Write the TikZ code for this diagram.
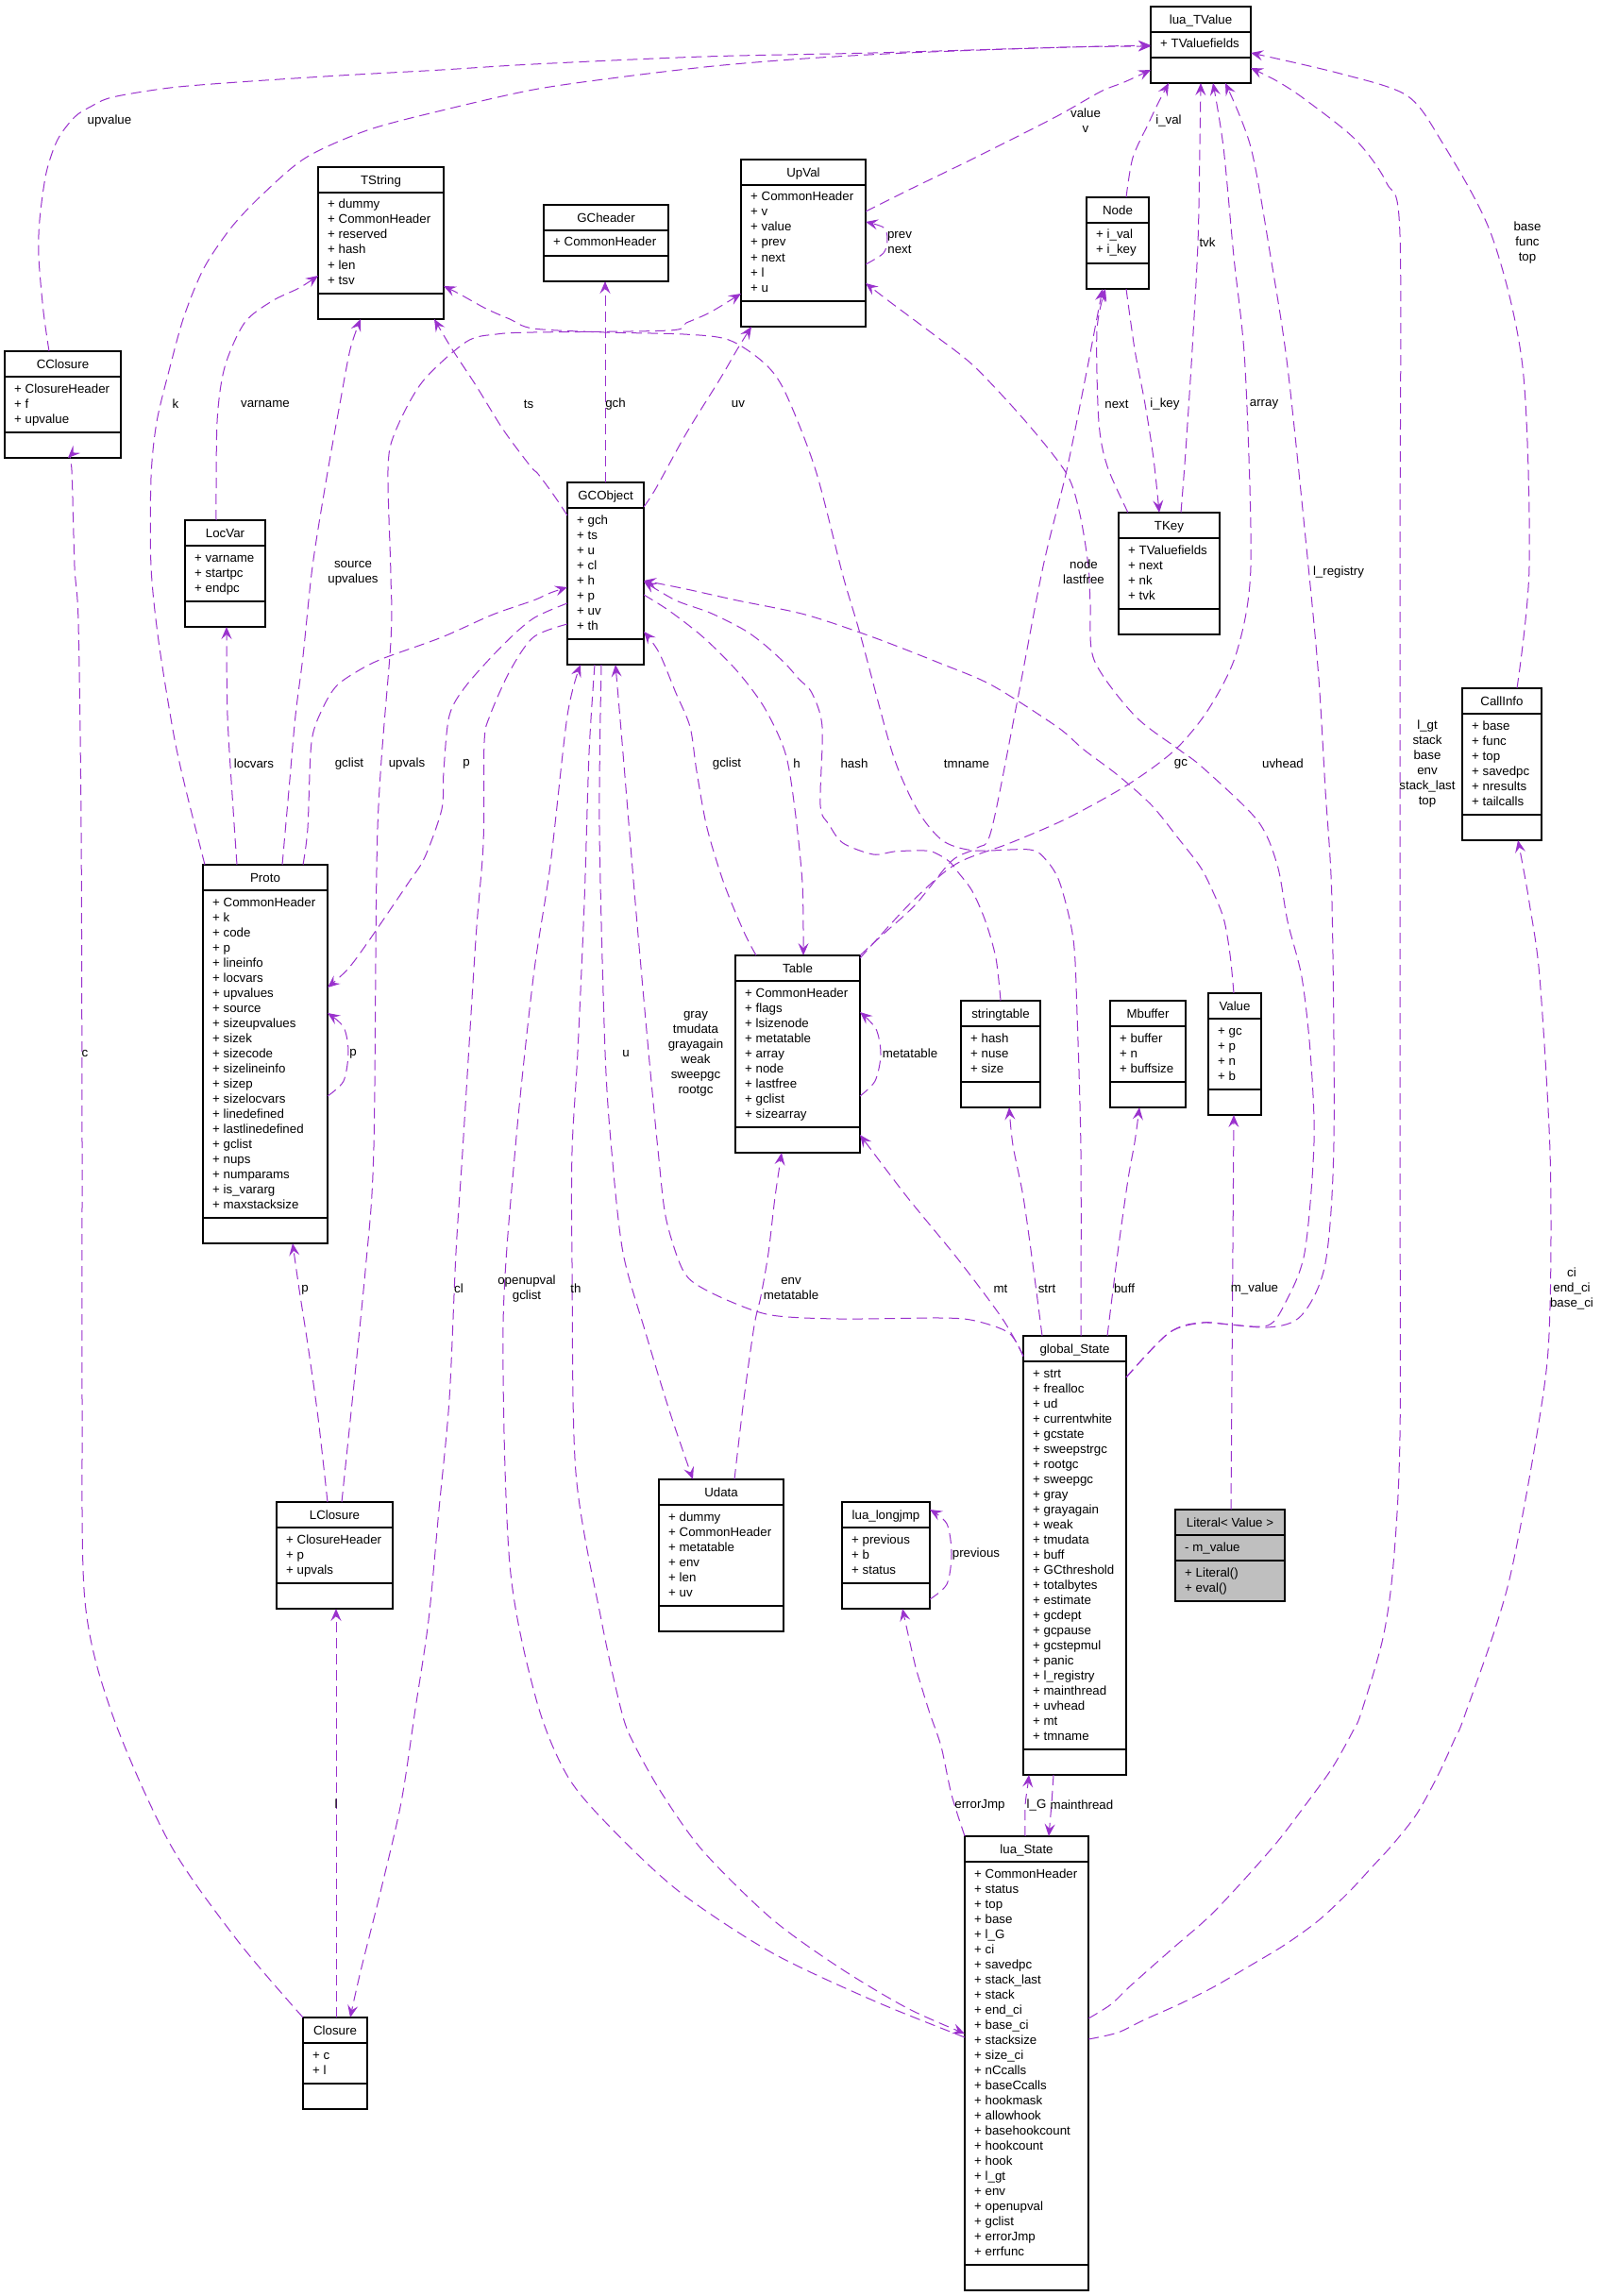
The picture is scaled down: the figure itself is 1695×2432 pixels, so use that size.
\documentclass[tikz,border=0pt]{standalone}
\usepackage{fontspec}
\setmainfont{Liberation Sans}
\usetikzlibrary{arrows.meta,calc}
\definecolor{edgec}{HTML}{9A32CD}
\definecolor{litgray}{HTML}{BFBFBF}
\tikzset{
 clsbox/.style={draw=black, line width=1.1pt, inner sep=0pt, outer sep=0pt},
 clsline/.style={black, line width=1.1pt},
 clstitle/.style={anchor=base, inner sep=0pt, font=\fontsize{13.3}{16}\selectfont},
 clstxt/.style={anchor=base west, inner sep=0pt, font=\fontsize{13.3}{16}\selectfont},
 edge/.style={draw=edgec, line width=1pt, dash pattern=on 11pt off 6pt, -{Stealth[length=13pt,width=11pt,inset=5pt]}},
 lbl/.style={inner sep=0pt, align=center, font=\fontsize{13.3}{16}\selectfont},
}
\def\clsfill{white}
\newcommand\cls[9]{%
 \pgfmathsetmacro\hB{#6*16+11}%
 \pgfmathsetmacro\hC{#8*16+11}%
 \pgfmathsetmacro\hT{27+\hB+\hC}%
 \node[clsbox, fill=\clsfill, minimum width=#4pt, minimum height=\hT pt, anchor=north west] (#1) at (#2,#3) {};
 \draw[clsline] (#2,#3+27) -- (#2+#4,#3+27);
 \draw[clsline] (#2,#3+27+\hB) -- (#2+#4,#3+27+\hB);
 \node[clstitle] (#1-t) at (#2+#4/2,#3+18.5) {#5};
 \foreach \clsitem [count=\clsnum] in {#7} {\node[clstxt] (#1-a\clsnum) at (#2+10,#3+28+16*\clsnum) {\clsitem};}
 \if\relax\detokenize{#9}\relax\else
 \foreach \clsitem [count=\clsnum] in {#9} {\node[clstxt] (#1-m\clsnum) at (#2+10,#3+28+\hB+16*\clsnum) {\clsitem};}
 \fi
}
\newcommand\anc[4]{\coordinate (#1) at ($(#2.north west)+(#3,#4)$);}
\begin{document}
\begin{tikzpicture}[x=1pt,y=-1pt]
\useasboundingbox[fill=white] (0,0) rectangle (1695,2432);

% ---------- classes ----------
\cls{LT}{1219}{7}{106}{lua\_TValue}{1}{+ TValuefields}{1}{}
\cls{TS}{337}{177}{133}{TString}{6}{+ dummy,+ CommonHeader,+ reserved,+ hash,+ len,+ tsv}{1}{}
\cls{CC}{5}{372}{123}{CClosure}{3}{+ ClosureHeader,+ f,+ upvalue}{1}{}
\cls{GH}{576}{217}{132}{GCheader}{1}{+ CommonHeader}{1}{}
\cls{UV}{785}{169}{132}{UpVal}{7}{+ CommonHeader,+ v,+ value,+ prev,+ next,+ l,+ u}{1}{}
\cls{ND}{1151}{209}{66}{Node}{2}{+ i\_val,+ i\_key}{1}{}
\cls{GO}{601}{511}{81}{GCObject}{8}{+ gch,+ ts,+ u,+ cl,+ h,+ p,+ uv,+ th}{1}{}
\cls{LV}{196}{551}{85}{LocVar}{3}{+ varname,+ startpc,+ endpc}{1}{}
\cls{TK}{1185}{543}{107}{TKey}{4}{+ TValuefields,+ next,+ nk,+ tvk}{1}{}
\cls{CI}{1549}{729}{84}{CallInfo}{6}{+ base,+ func,+ top,+ savedpc,+ nresults,+ tailcalls}{1}{}
\cls{PR}{215}{916}{132}{Proto}{21}{+ CommonHeader,+ k,+ code,+ p,+ lineinfo,+ locvars,+ upvalues,+ source,+ sizeupvalues,+ sizek,+ sizecode,+ sizelineinfo,+ sizep,+ sizelocvars,+ linedefined,+ lastlinedefined,+ gclist,+ nups,+ numparams,+ is\_vararg,+ maxstacksize}{1}{}
\cls{TB}{779}{1012}{132}{Table}{9}{+ CommonHeader,+ flags,+ lsizenode,+ metatable,+ array,+ node,+ lastfree,+ gclist,+ sizearray}{1}{}
\cls{ST}{1018}{1060}{84}{stringtable}{3}{+ hash,+ nuse,+ size}{1}{}
\cls{MB}{1176}{1060}{80}{Mbuffer}{3}{+ buffer,+ n,+ buffsize}{1}{}
\cls{VA}{1280}{1052}{56}{Value}{4}{+ gc,+ p,+ n,+ b}{1}{}
\cls{GS}{1084}{1415}{109}{global\_State}{25}{+ strt,+ frealloc,+ ud,+ currentwhite,+ gcstate,+ sweepstrgc,+ rootgc,+ sweepgc,+ gray,+ grayagain,+ weak,+ tmudata,+ buff,+ GCthreshold,+ totalbytes,+ estimate,+ gcdept,+ gcpause,+ gcstepmul,+ panic,+ l\_registry,+ mainthread,+ uvhead,+ mt,+ tmname}{1}{}
\cls{UD}{698}{1567}{132}{Udata}{6}{+ dummy,+ CommonHeader,+ metatable,+ env,+ len,+ uv}{1}{}
\cls{LJ}{892}{1591}{93}{lua\_longjmp}{3}{+ previous,+ b,+ status}{1}{}
\cls{LC}{293}{1591}{123}{LClosure}{3}{+ ClosureHeader,+ p,+ upvals}{1}{}
\def\clsfill{litgray}
\cls{LI}{1245}{1599}{116}{Literal< Value >}{1}{- m\_value}{2}{+ Literal(),+ eval()}
\def\clsfill{white}
\cls{CL}{321}{2137}{68}{Closure}{2}{+ c,+ l}{1}{}
\cls{LS}{1022}{1945}{131}{lua\_State}{26}{+ CommonHeader,+ status,+ top,+ base,+ l\_G,+ ci,+ savedpc,+ stack\_last,+ stack,+ end\_ci,+ base\_ci,+ stacksize,+ size\_ci,+ nCcalls,+ baseCcalls,+ hookmask,+ allowhook,+ basehookcount,+ hookcount,+ hook,+ l\_gt,+ env,+ openupval,+ gclist,+ errorJmp,+ errfunc}{1}{}

% ---------- edge end points ----------
\anc{e1a}{CC}{47}{0} \anc{e1b}{LT}{0}{41}
\anc{e2a}{PR}{2}{0} \anc{e2b}{LT}{0}{42}
\anc{e3a}{LV}{33}{0} \anc{e3b}{TS}{0}{115}
\anc{e4a}{PR}{84}{0} \anc{e4b}{TS}{45}{161}
\anc{e5a}{GO}{0}{35} \anc{e5b}{TS}{123}{161}
\anc{e6a}{PR}{106}{0} \anc{e6b}{GO}{0}{111}
\anc{e7a}{GO}{0}{128} \anc{e7b}{PR}{132}{130}
\anc{e8a}{GO}{0}{150} \anc{e8b}{CL}{50}{0}
\anc{e9a}{LC}{69}{0} \anc{e9b}{UV}{0}{142}
\anc{e10a}{GO}{81}{26} \anc{e10b}{UV}{11}{177}
\anc{e11a}{GO}{40}{0} \anc{e11b}{GH}{65}{81}
\anc{e12a}{UV}{132}{55} \anc{e12b}{LT}{0}{67}
\anc{e13a}{UV}{132}{111} \anc{e13b}{UV}{132}{66}
\anc{e14a}{ND}{42}{0} \anc{e14b}{LT}{19}{81}
\anc{e15a}{TK}{66}{0} \anc{e15b}{LT}{53}{81}
\anc{e16a}{ND}{42}{97} \anc{e16b}{TK}{43}{0}
\anc{e17a}{TK}{10}{0} \anc{e17b}{ND}{20}{97}
\anc{e18a}{TB}{132}{0} \anc{e18b}{ND}{17}{97}
\anc{e19a}{TB}{132}{3} \anc{e19b}{LT}{66}{81}
\anc{e20a}{GS}{109}{44} \anc{e20b}{LT}{79}{81}
\anc{e21a}{GS}{109}{44} \anc{e21b}{UV}{132}{131}
\anc{e22a}{LS}{131}{193} \anc{e22b}{LT}{106}{65}
\anc{e23a}{CI}{58}{0} \anc{e23b}{LT}{106}{49}
\anc{e24a}{LS}{131}{215} \anc{e24b}{CI}{59}{161}
\anc{e25a}{LS}{0}{0} \anc{e25b}{LJ}{64}{113}
\anc{e26a}{LS}{64}{0} \anc{e26b}{GS}{6}{465}
\anc{e27a}{GS}{32}{465} \anc{e27b}{LS}{89}{0}
\anc{e28a}{LI}{59}{0} \anc{e28b}{VA}{27}{129}
\anc{e29a}{TB}{132}{149} \anc{e29b}{TB}{132}{60}
\anc{e30a}{PR}{132}{245} \anc{e30b}{PR}{132}{157}
\anc{e31a}{LJ}{93}{103} \anc{e31b}{LJ}{93}{8}
\anc{e32a}{UD}{80}{0} \anc{e32b}{TB}{49}{209}
\anc{e33a}{GS}{0}{21} \anc{e33b}{TB}{132}{190}
\anc{e34a}{GS}{20}{0} \anc{e34b}{ST}{51}{113}
\anc{e35a}{GS}{89}{0} \anc{e35b}{MB}{31}{113}
\anc{e36a}{GS}{61}{0} \anc{e36b}{TS}{133}{126}
\anc{e37a}{ST}{42}{0} \anc{e37b}{GO}{81}{105}
\anc{e38a}{GO}{81}{119} \anc{e38b}{TB}{72}{0}
\anc{e39a}{TB}{22}{0} \anc{e39b}{GO}{81}{158}
\anc{e40a}{VA}{27}{0} \anc{e40b}{GO}{81}{104}
\anc{e41a}{GS}{0}{22} \anc{e41b}{GO}{51}{193}
\anc{e42a}{GO}{36}{193} \anc{e42b}{UD}{36}{0}
\anc{e43a}{GO}{29}{193} \anc{e43b}{LS}{0}{209}
\anc{e44a}{LS}{0}{213} \anc{e44b}{GO}{14}{193}
\anc{e45a}{CL}{0}{0} \anc{e45b}{CC}{67}{113}
\anc{e46a}{CL}{35}{0} \anc{e46b}{LC}{63}{113}
\anc{e47a}{LC}{54}{0} \anc{e47b}{PR}{95}{401}
\anc{e48a}{PR}{36}{0} \anc{e48b}{LV}{44}{113}

% ---------- edges ----------
\tikzset{sm/.style={smooth,tension=0.5}}
\draw[edge] plot[sm] coordinates {(e1a) (46,330) (41,272) (42,233) (49,183) (61,148) (79,124) (96,113) (119,103) (180,93) (252,87) (360,80) (468,74) (565,68) (745,60) (925,56) (1130,50) (e1b)};
\draw[edge] plot[sm] coordinates {(e2a) (197,837) (184,778) (168,679) (160,600) (160,506) (166,447) (180,389) (195,335) (216,284) (245,241) (278,206) (324,167) (389,138) (468,117) (565,95) (655,82) (756,70) (853,62) (961,56) (1130,50) (e2b)};
\draw[edge] plot[sm] coordinates {(e3a) (230,447) (238,389) (259,342) (288,319) (317,305) (e3b)};
\draw[edge] plot[sm] coordinates {(e4a) (306,837) (313,758) (321,695) (331,600) (346,506) (360,428) (371,370) (e4b)};
\draw[edge] plot[sm] coordinates {(e5a) (587,525) (570,502) (562,494) (533,455) (504,408) (479,370) (e5b)};
\draw[edge] plot[sm] coordinates {(e6a) (326,877) (330,786) (342,750) (357,726) (382,709) (407,697) (468,675) (522,651) (565,636) (583,628) (e6b)};
\draw[edge] plot[sm] coordinates {(e7a) (565,655) (533,683) (494,726) (476,758) (470,817) (468,857) (450,908) (432,936) (389,999) (368,1027) (e7b)};
\draw[edge] plot[sm] coordinates {(e8a) (565,675) (540,711) (519,758) (513,786) (512,893) (504,995) (490,1220) (483,1327) (476,1482) (465,1599) (454,1716) (440,1810) (425,1909) (404,2000) (382,2088) (e8b)};
\draw[edge] plot[sm] coordinates {(e9a) (387,1346) (396,1215) (400,877) (414,679) (414,610) (411,498) (418,459) (447,405) (494,362) (526,354) (565,352) (709,350) (727,342) (752,331) (e9b)};
\draw[edge] plot[sm] coordinates {(e10a) (695,517) (727,459) (763,401) (781,370) (e10b)};
\draw[edge] (e11a) -- (e11b);
\draw[edge] plot[sm] coordinates {(e12a) (961,202) (1033,167) (1118,124) (1166,97) (1191,87) (e12b)};
\draw[edge] plot[sm] coordinates {(e13a) (936,268) (940,253) (936,241) (e13b)};
\draw[edge] plot[sm] coordinates {(e14a) (1200,167) (1216,132) (1227,109) (e14b)};
\draw[edge] plot[sm] coordinates {(e15a) (1256,478) (1263,370) (1269,257) (1271,156) (e15b)};
\draw[edge] plot[sm] coordinates {(e16a) (1202,370) (1213,428) (1222,486) (e16b)};
\draw[edge] plot[sm] coordinates {(e17a) (1173,494) (1164,447) (1162,350) (e17b)};
\draw[edge] plot[sm] coordinates {(e18a) (935,990) (970,958) (1008,912) (1035,898) (1050,880) (1077,746) (1105,600) (1130,498) (1152,389) (1161,342) (e18b)};
\draw[edge] plot[sm] coordinates {(e19a) (966,955) (1013,915) (1070,893) (1130,867) (1195,831) (1245,794) (1281,750) (1310,691) (1325,600) (1319,389) (1307,272) (1296,156) (e19b)};
\draw[edge] plot[sm] coordinates {(e20a) (1238,1412) (1274,1401) (1343,1406) (1379,1393) (1404,1338) (1413,1210) (1411,956) (1404,837) (1397,719) (1386,600) (1364,389) (1346,272) (1325,156) (e20b)};
\draw[edge] plot[sm] coordinates {(e21a) (1238,1412) (1274,1401) (1303,1403) (1343,1404) (1361,1381) (1382,1327) (1392,1210) (1388,1114) (1379,1035) (1364,976) (1353,916) (1332,869) (1274,813) (1249,794) (1202,758) (1159,699) (1155,640) (1153,600) (1144,545) (1130,502) (1087,447) (1033,389) (994,358) (947,323) (e21b)};
\draw[edge] plot[sm] coordinates {(e22a) (1177,2123) (1198,2103) (1242,2064) (1281,2030) (1317,1992) (1353,1951) (1382,1913) (1411,1873) (1433,1834) (1442,1814) (1465,1735) (1476,1657) (1483,1521) (1483,1210) (1483,600) (1483,249) (1469,194) (1436,148) (1382,105) (1353,86) (e22b)};
\draw[edge] plot[sm] coordinates {(e23a) (1620,600) (1613,389) (1580,249) (1526,148) (1490,101) (1420,78) (e23b)};
\draw[edge] plot[sm] coordinates {(e24a) (1184,2153) (1213,2139) (1249,2123) (1285,2105) (1321,2084) (1361,2060) (1397,2034) (1429,2004) (1454,1977) (1476,1953) (1501,1921) (1523,1881) (1541,1842) (1552,1816) (1598,1677) (1634,1482) (1642,1385) (1642,1220) (1631,1035) (1620,956) (1613,916) (e24b)};
\draw[edge] plot[sm] coordinates {(e25a) (1008,1901) (997,1850) (985,1815) (976,1786) (969,1762) (e25b)};
\draw[edge] plot[sm] coordinates {(e26a) (1086,1913) (1089,1889) (e26b)};
\draw[edge] plot[sm] coordinates {(e27a) (1114,1910) (e27b)};
\draw[edge] (e28a) -- (e28b);
\draw[edge] plot[sm] coordinates {(e29a) (927,1145) (933,1117) (928,1090) (e29b)};
\draw[edge] plot[sm] coordinates {(e30a) (364,1145) (369,1114) (364,1088) (e30b)};
\draw[edge] plot[sm] coordinates {(e31a) (1003,1678) (1008,1646) (1003,1614) (e31b)};
\draw[edge] plot[sm] coordinates {(e32a) (788,1482) (799,1404) (806,1373) (814,1327) (821,1268) (e32b)};
\draw[edge] plot[sm] coordinates {(e33a) (1062,1397) (1015,1334) (961,1268) (e33b)};
\draw[edge] plot[sm] coordinates {(e34a) (1095,1346) (1084,1268) (1073,1213) (e34b)};
\draw[edge] plot[sm] coordinates {(e35a) (1184,1327) (1195,1249) (1202,1210) (e35b)};
\draw[edge] plot[sm] coordinates {(e36a) (1145,1220) (1141,1074) (1137,995) (1123,936) (1109,912) (1091,900) (1033,901) (1001,892) (979,869) (961,837) (943,790) (911,671) (893,610) (864,498) (832,416) (810,385) (772,360) (724,354) (640,352) (565,348) (540,338) (515,327) (486,311) (e36b)};
\draw[edge] plot[sm] coordinates {(e37a) (1055,1015) (1044,976) (1030,944) (1015,924) (1005,912) (987,902) (969,901) (947,902) (925,905) (893,893) (878,873) (869,853) (871,770) (860,734) (846,719) (832,703) (810,683) (788,667) (752,649) (716,636) (e37b)};
\draw[edge] plot[sm] coordinates {(e38a) (709,647) (745,675) (781,711) (810,750) (832,798) (842,857) (850,936) (e38b)};
\draw[edge] plot[sm] coordinates {(e39a) (788,987) (767,936) (749,877) (738,817) (731,770) (716,734) (698,691) (e39b)};
\draw[edge] plot[sm] coordinates {(e40a) (1303,1011) (1296,972) (1281,936) (1270,916) (1249,889) (1220,853) (1184,821) (1148,794) (1120,770) (1051,726) (997,703) (925,675) (853,651) (781,636) (727,624) (e40b)};
\draw[edge] plot[sm] coordinates {(e41a) (1069,1412) (1033,1399) (997,1396) (889,1397) (817,1393) (770,1377) (734,1358) (720,1338) (705,1288) (697,1218) (687,1114) (673,956) (660,798) (e41b)};
\draw[edge] plot[sm] coordinates {(e42a) (635,877) (641,1114) (648,1220) (660,1327) (684,1412) (709,1494) (e42b)};
\draw[edge] plot[sm] coordinates {(e43a) (624,798) (619,956) (612,1114) (606,1220) (606,1338) (610,1560) (637,1716) (659,1815) (673,1850) (702,1901) (745,1961) (817,2032) (889,2084) (961,2127) (e43b)};
\draw[edge] plot[sm] coordinates {(e44a) (925,2119) (817,2068) (720,2004) (648,1937) (601,1881) (568,1800) (540,1657) (533,1404) (546,1215) (565,1035) (583,916) (601,758) (e44b)};
\draw[edge] plot[sm] coordinates {(e45a) (252,2056) (180,1953) (119,1816) (90,1696) (87,1482) (87,1210) (86,877) (83,659) (79,600) (76,498) (e45b)};
\draw[edge] (e46a) -- (e46b);
\draw[edge] plot[sm] coordinates {(e47a) (337,1502) (326,1424) (317,1366) (e47b)};
\draw[edge] plot[sm] coordinates {(e48a) (247,857) (241,758) (e48b)};

% ---------- edge labels ----------
\node[lbl] (l1) at (116,128) {upvalue};
\node[lbl] (l2) at (186,428) {k};
\node[lbl] (l3) at (281,428) {varname};
\node[lbl] (l4) at (374,607) {source\\upvalues};
\node[lbl] (l5) at (560,428) {ts};
\node[lbl] (l6) at (370,809) {gclist};
\node[lbl] (l7) at (494,809) {p};
\node[lbl] (l8) at (486,1365) {cl};
\node[lbl] (l9) at (431,809) {upvals};
\node[lbl] (l10) at (782,428) {uv};
\node[lbl] (l11) at (652,428) {gch};
\node[lbl] (l12) at (1150,128) {value\\v};
\node[lbl] (l13) at (953,257) {prev\\next};
\node[lbl] (l14) at (1238,128) {i\_val};
\node[lbl] (l15) at (1279,257) {tvk};
\node[lbl] (l16) at (1234,428) {i\_key};
\node[lbl] (l17) at (1183,428) {next};
\node[lbl] (l18) at (1148,606) {node\\lastfree};
\node[lbl] (l19) at (1339,428) {array};
\node[lbl] (l20) at (1418,606) {l\_registry};
\node[lbl] (l21) at (1359,809) {uvhead};
\node[lbl] (l22) at (1512,809) {l\_gt\\stack\\base\\env\\stack\_last\\top};
\node[lbl] (l23) at (1618,257) {base\\func\\top};
\node[lbl] (l24) at (1665,1365) {ci\\end\_ci\\base\_ci};
\node[lbl] (l25) at (1038,1912) {errorJmp};
\node[lbl] (l26) at (1098,1912) {l\_G};
\node[lbl] (l27) at (1146,1912) {mainthread};
\node[lbl] (l28) at (1329,1365) {m\_value};
\node[lbl] (l29) at (964,1116) {metatable};
\node[lbl] (l30) at (374,1116) {p};
\node[lbl] (l31) at (1034,1646) {previous};
\node[lbl] (l32) at (838,1365) {env\\metatable};
\node[lbl] (l33) at (1060,1365) {mt};
\node[lbl] (l34) at (1109,1365) {strt};
\node[lbl] (l35) at (1191,1365) {buff};
\node[lbl] (l36) at (1024,809) {tmname};
\node[lbl] (l37) at (905,809) {hash};
\node[lbl] (l38) at (844,809) {h};
\node[lbl] (l39) at (770,809) {gclist};
\node[lbl] (l40) at (1251,809) {gc};
\node[lbl] (l41) at (737,1116) {gray\\tmudata\\grayagain\\weak\\sweepgc\\rootgc};
\node[lbl] (l42) at (663,1116) {u};
\node[lbl] (l43) at (610,1365) {th};
\node[lbl] (l44) at (558,1365) {openupval\\gclist};
\node[lbl] (l45) at (90,1116) {c};
\node[lbl] (l46) at (356,1911) {l};
\node[lbl] (l47) at (323,1366) {p};
\node[lbl] (l48) at (269,809) {locvars};
\end{tikzpicture}
\end{document}
